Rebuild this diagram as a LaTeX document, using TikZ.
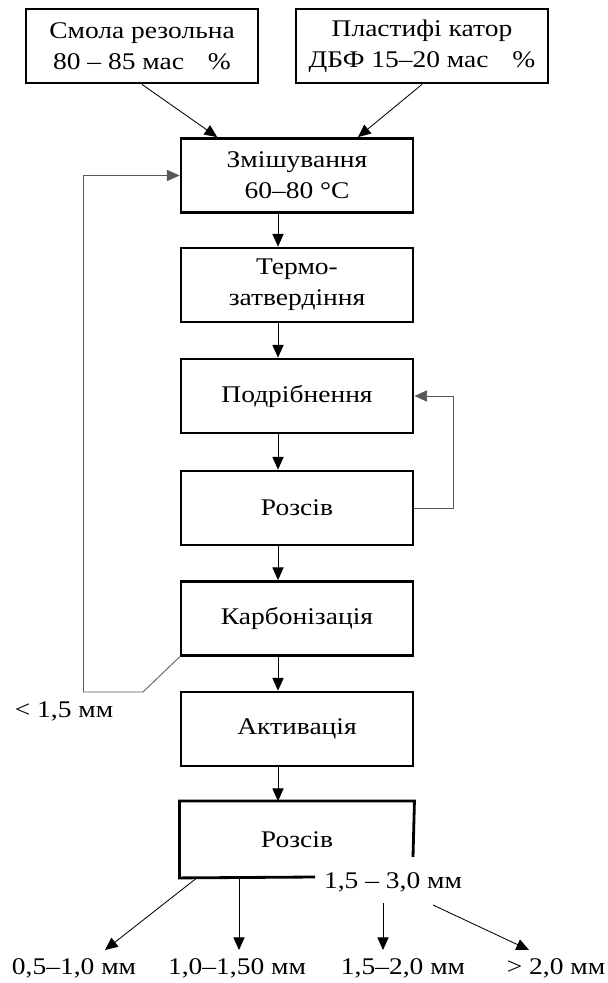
\documentclass[tikz,border=0pt]{standalone}
\usepackage{fontspec}
\setmainfont[FakeStretch=1.15]{Liberation Serif}
\usetikzlibrary{arrows.meta,calc}
\tikzset{
  stage/.style={draw, line width=2pt, minimum width=5.8cm, minimum height=1.85cm, inner sep=2pt, align=center, font=\fontsize{17}{22}\selectfont},
  bare/.style={stage, draw=none},
  tag/.style={inner sep=0pt, font=\fontsize{17}{20}\selectfont},
  flow/.style={line width=0.6pt, -{Triangle[length=9pt,width=8pt]}},
  back/.style={line width=0.6pt, gray!70!black},
  border/.style={line width=2pt}
}
\begin{document}
\begin{tikzpicture}[x=0.025cm, y=-0.025cm]
  \useasboundingbox (0,0) rectangle (607,983);

  % inputs
  \node[stage] (resin) at (142,46) {Смола резольна\\80 – 85 мас\quad\%};
  \node[stage, minimum width=6.3cm] (plast) at (422,46) {Пластифі катор\\ДБФ 15–20 мас\quad\%};

  % process chain
  \node[stage] (mix) at (297,175.5) {Змішування\\60–80 °C};
  \node[stage] (cure) at (297,285) {Термо-\\затвердіння};
  \node[stage] (mill) at (297,396) {Подрібнення};
  \node[stage] (sieve) at (297,508) {Розсів};
  \node[stage] (carb) at (297,618.5) {Карбонізація};
  \node[stage] (act) at (297,729) {Активація};
  \node[bare] (sieve2) at (297,839.5) {Розсів};

  % open outline of the last box
  \coordinate (cut) at (315,877);
  \coordinate (rcut) at (413,857);
  \draw[border] (rcut) -- (sieve2.north east) -- (sieve2.north west) -- (sieve2.south west) -- (cut);

  \draw[flow] (resin.south) -- ($(mix.north west)!0.16!(mix.north east)$);
  \draw[flow] (plast.south) -- ($(mix.north west)!0.76!(mix.north east)$);

  \coordinate (ax) at (278,0);
  \foreach \a/\b in {mix/cure, cure/mill, mill/sieve, sieve/carb, carb/act, act/sieve2}
    \draw[flow] (\a.south -| ax) -- (\b.north -| ax);

  % returns
  \coordinate (fb1) at (143,692);
  \coordinate (fb2) at (83,692);
  \draw[back] (carb.south west) -- (fb1) -- (fb2);
  \draw[back, -{Triangle[length=9pt,width=8pt]}] (fb2) |- (mix.west);
  \draw[back, -{Triangle[length=9pt,width=8pt]}] (sieve.east) -- ++(39,0) |- (mill.east);
  \node[tag] (fine) at (64,711) {< 1,5 мм};

  % fractions
  \node[tag] (split) at (393,882) {1,5 – 3,0 мм};
  \node[tag] (o1) at (74,968) {0,5–1,0 мм};
  \node[tag] (o2) at (237,968) {1,0–1,50 мм};
  \node[tag] (o3) at (403,968) {1,5–2,0 мм};
  \node[tag] (o4) at (556,968) {> 2,0 мм};

  \coordinate (s1) at (198,877);
  \coordinate (s2) at (239,877);
  \coordinate (s3) at (383,903);
  \coordinate (s4) at (433,905);
  \coordinate (e1) at (105,950);
  \coordinate (e2) at (239,950);
  \coordinate (e3) at (383,950);
  \coordinate (e4) at (529,950);
  \draw[flow] (s1) -- (e1);
  \draw[flow] (s2) -- (e2);
  \draw[flow] (s3) -- (e3);
  \draw[flow] (s4) -- (e4);
\end{tikzpicture}
\end{document}
